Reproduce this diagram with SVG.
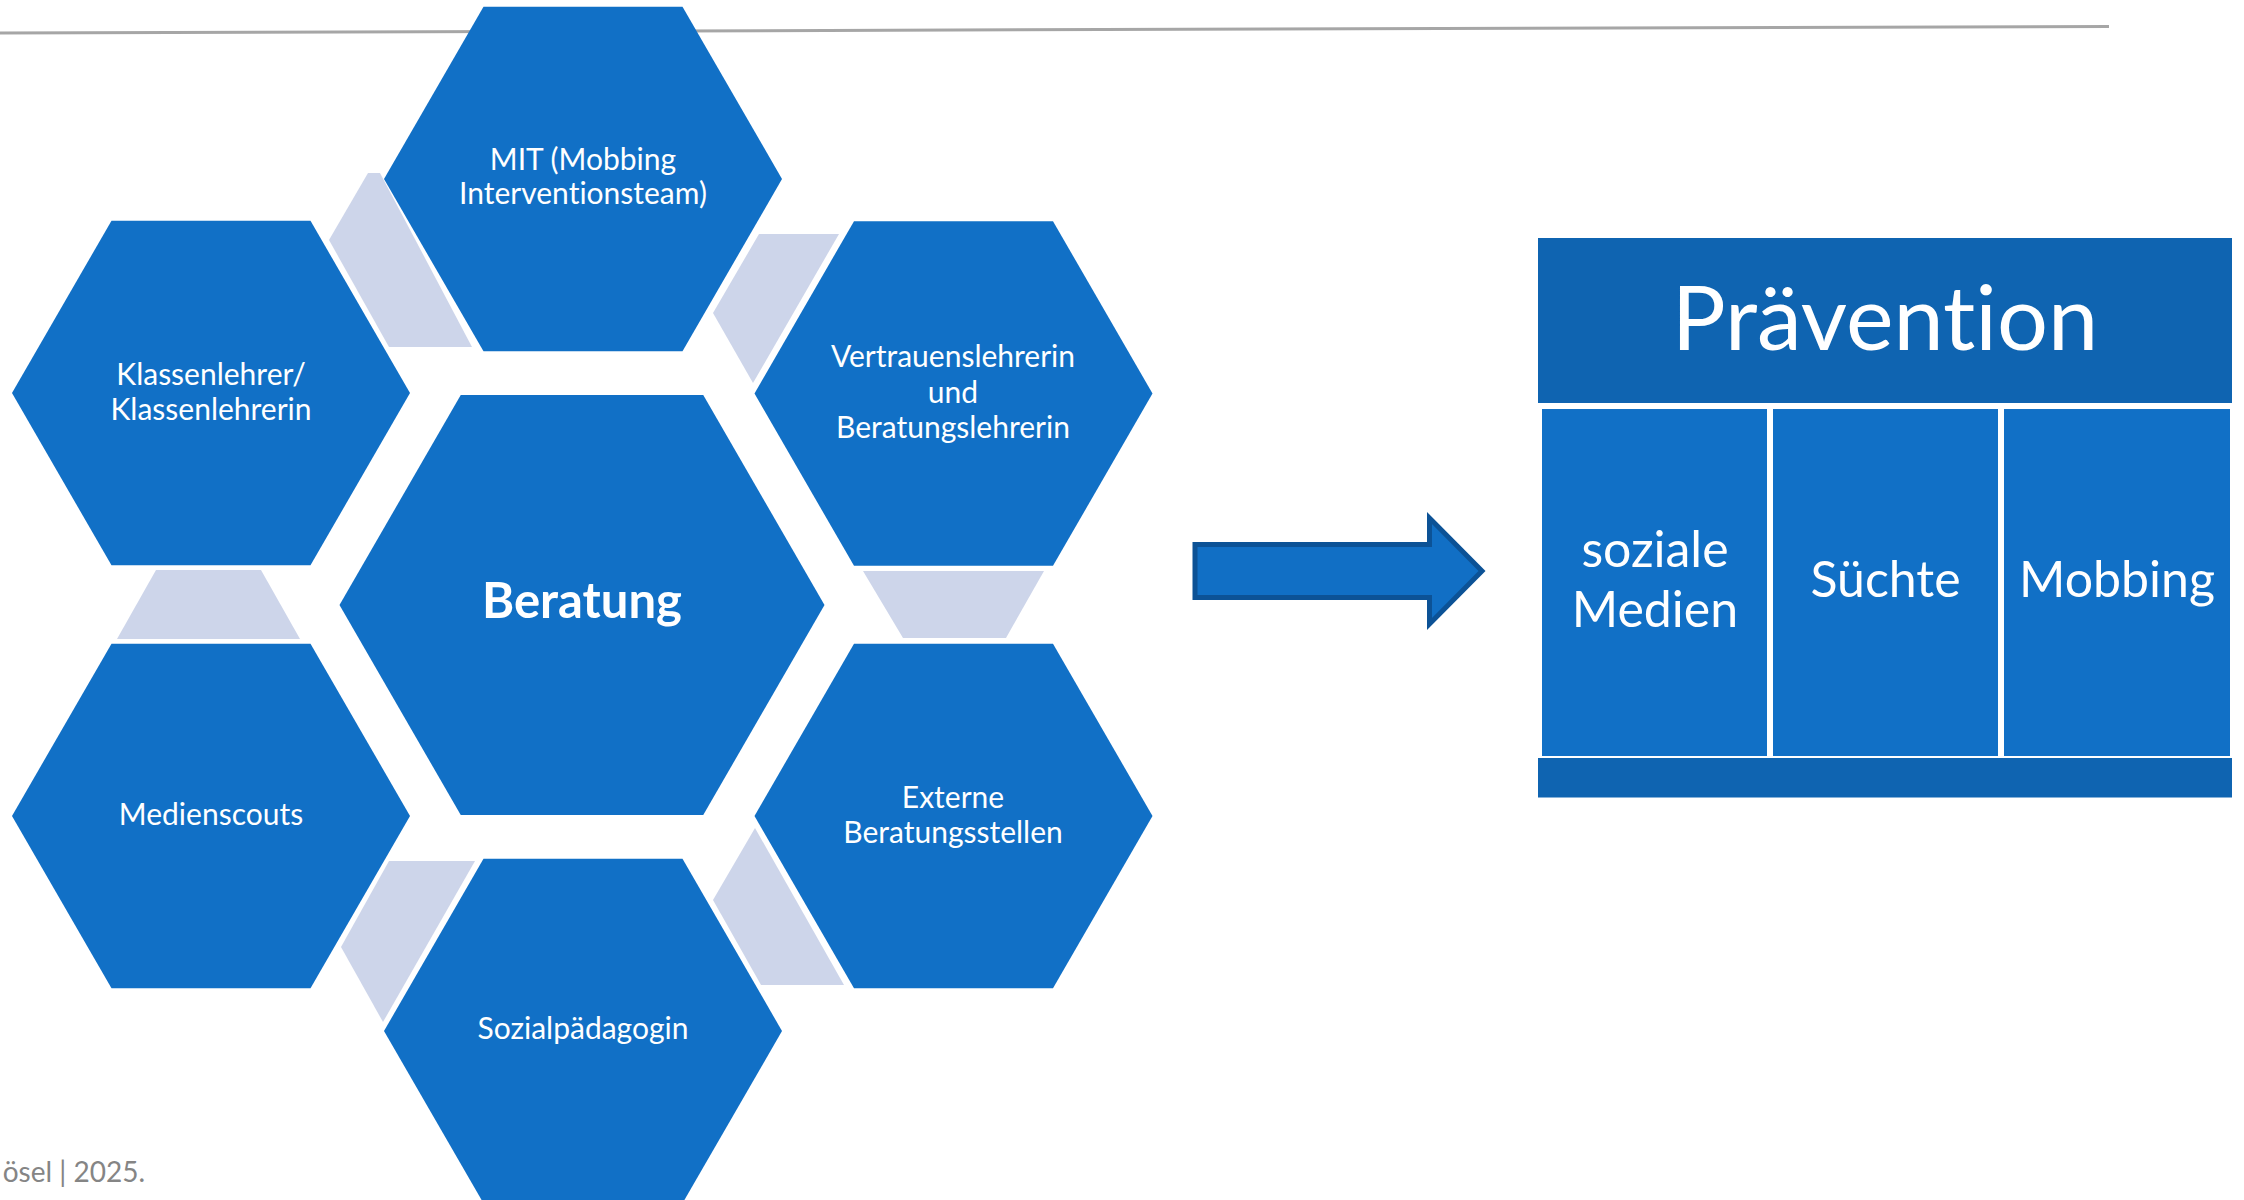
<svg xmlns="http://www.w3.org/2000/svg" width="2244" height="1200" viewBox="0 0 2244 1200">
  <style>
    .hex { fill: #1170C6; }
    .link { fill: #CDD5EA; }
    .lbl { font-family: Lato, "Liberation Sans", sans-serif; fill: #FFFFFF; text-anchor: middle; font-size: 30px; font-variant-ligatures: none; }
    .big { font-weight: bold; font-size: 49px; }
    .hdr { fill: #0F64B1; }
    .col { fill: #1170C6; }
    .coltxt { font-size: 50px; }
    .foot { font-family: Lato, "Liberation Sans", sans-serif; fill: #858585; font-size: 28px; text-anchor: end; }
  </style>
  <rect width="2244" height="1200" fill="#FFFFFF"/>
  <line x1="0" y1="33" x2="2109" y2="26.5" stroke="#A6A6A6" stroke-width="3"/>

  <g id="connectors">
    <polygon class="link" points="368,173 380,173 472,347 389,347 329,240"/>
    <polygon class="link" points="759,234 839,234 753,383 713,313"/>
    <polygon class="link" points="156,570 261,570 300,639 117,639"/>
    <polygon class="link" points="863,571 1044,571 1006,638 903,638"/>
    <polygon class="link" points="755,828 844,985 761,985 713,900"/>
    <polygon class="link" points="389,861 475,861 383,1022 341,947"/>
    <polygon id="arrow" points="1195,544.5 1429.5,544.5 1429.5,518 1482,571 1429.5,624 1429.5,597.5 1195,597.5" fill="#116FC5" stroke="#0C5296" stroke-width="5"/>
  </g>

  <g id="node-beratung">
    <polygon class="hex" points="339.5,605 460.75,395 703.25,395 824.5,605 703.25,815 460.75,815"/>
    <text class="lbl big" x="582" y="618">Beratung</text>
  </g>
  <g id="node-mit">
    <polygon class="hex" points="384,179 483.5,6.7 682.5,6.7 782,179 682.5,351.3 483.5,351.3"/>
    <text class="lbl" x="583" y="170">MIT (Mobbing</text>
    <text class="lbl" x="583" y="204">Interventionsteam)</text>
  </g>
  <g id="node-klassenlehrer">
    <polygon class="hex" points="12,393 111.5,220.7 310.5,220.7 410,393 310.5,565.3 111.5,565.3"/>
    <text class="lbl" x="211" y="385">Klassenlehrer/</text>
    <text class="lbl" x="211" y="420">Klassenlehrerin</text>
  </g>
  <g id="node-medienscouts">
    <polygon class="hex" points="12,816 111.5,643.7 310.5,643.7 410,816 310.5,988.3 111.5,988.3"/>
    <text class="lbl" x="211" y="825">Medienscouts</text>
  </g>
  <g id="node-vertrauenslehrerin">
    <polygon class="hex" points="754.5,393.5 854,221.2 1053,221.2 1152.5,393.5 1053,565.8 854,565.8"/>
    <text class="lbl" x="953" y="367">Vertrauenslehrerin</text>
    <text class="lbl" x="953" y="403">und</text>
    <text class="lbl" x="953" y="438">Beratungslehrerin</text>
  </g>
  <g id="node-externe">
    <polygon class="hex" points="754.5,816 854,643.7 1053,643.7 1152.5,816 1053,988.3 854,988.3"/>
    <text class="lbl" x="953" y="808">Externe</text>
    <text class="lbl" x="953" y="843">Beratungsstellen</text>
  </g>
  <g id="node-sozialpaedagogin">
    <polygon class="hex" points="384,1031 483.5,858.7 682.5,858.7 782,1031 682.5,1203.3 483.5,1203.3"/>
    <text class="lbl" x="583" y="1039">Sozialpädagogin</text>
  </g>

  <g id="node-praevention">
    <rect class="hdr" x="1538" y="238" width="694" height="165"/>
    <text class="lbl" x="1885" y="350" style="font-size:90px">Prävention</text>
    <rect class="hdr" x="1538" y="758" width="694" height="39.5"/>
  </g>
  <g id="node-soziale-medien">
    <rect class="col" x="1542" y="409" width="225" height="347"/>
    <text class="lbl coltxt" x="1655" y="567">soziale</text>
    <text class="lbl coltxt" x="1655" y="627">Medien</text>
  </g>
  <g id="node-suechte">
    <rect class="col" x="1773" y="409" width="225" height="347"/>
    <text class="lbl coltxt" x="1885.5" y="597">Süchte</text>
  </g>
  <g id="node-mobbing">
    <rect class="col" x="2004" y="409" width="226" height="347"/>
    <text class="lbl coltxt" x="2117" y="597">Mobbing</text>
  </g>

  <text class="foot" x="145" y="1182">ösel | 2025.</text>
</svg>
